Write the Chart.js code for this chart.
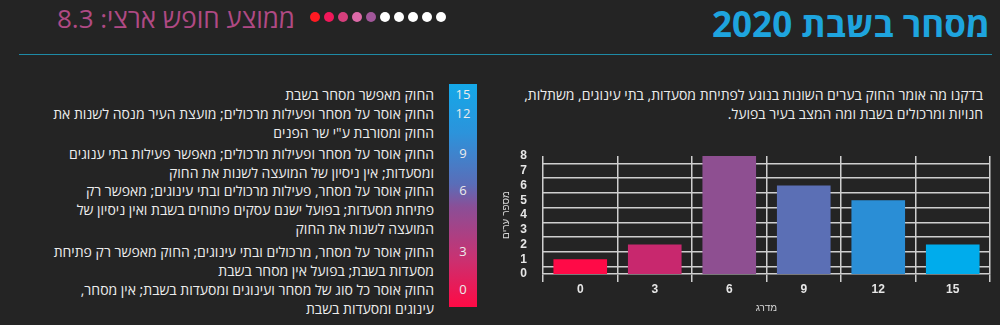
<!DOCTYPE html>
<html lang="he">
<head>
<meta charset="utf-8">
<script src="https://cdn.jsdelivr.net/npm/chart.js@4"></script>
<style>
    body {
        margin: 0;
        width: 1000px;
        height: 325px;
        background: #242424;
        overflow: hidden;
        position: relative;
        font-family: 'Open Sans', 'Liberation Sans', sans-serif;
        color: #ececec;
    }
    .abs { position: absolute; }
    #title {
        right: 10px;
        top: 0px;
        font-size: 35px;
        font-weight: 700;
        color: #1ea4de;
        direction: rtl;
        white-space: nowrap;
    }
    #avg {
        right: 705px;
        top: 0px;
        font-size: 26px;
        color: #b04a84;
        direction: rtl;
        white-space: nowrap;
    }
    #dots { left: 310px; top: 12px; display: flex; gap: 4px; }
    #dots span { width: 10px; height: 10px; border-radius: 50%; display: block; }
    #rule { left: 19px; top: 54px; width: 973px; height: 1px; background: #1e8aa6; }
    #intro {
        right: 17px;
        top: 85px;
        font-size: 14px;
        line-height: 19px;
        direction: rtl;
        text-align: right;
        white-space: nowrap;
    }
    #scale {
        left: 449px;
        top: 84px;
        width: 28px;
        height: 223px;
        background: linear-gradient(to bottom, #14a8e8 0%, #2c93db 22%, #5a6db8 45%, #8a4f97 55%, #c83272 78%, #ff0a45 100%);
    }
    .num { width: 28px; left: 449px; text-align: center; font-size: 13px; line-height: 19px; }
    .item {
        right: 566px;
        font-size: 14px;
        line-height: 19px;
        direction: rtl;
        text-align: right;
        white-space: nowrap;
    }
    #box { left: 500px; top: 140px; width: 500px; height: 185px; }
</style>
</head>
<body>
<div class="abs" id="avg">ממוצע חופש ארצי: 8.3</div>
<div class="abs" id="dots"></div>
<div class="abs" id="title">מסחר בשבת 2020</div>
<div class="abs" id="rule"></div>
<div class="abs" id="intro">בדקנו מה אומר החוק בערים השונות בנוגע לפתיחת מסעדות, בתי עינוגים, משתלות,<br>חנויות ומרכולים בשבת ומה המצב בעיר בפועל.</div>
<div class="abs" id="scale"></div>
<div class="abs" id="box"><canvas id="barChart"></canvas></div>

<script>
// data
const grades = ['0', '3', '6', '9', '12', '15'];
const cityCounts = [1, 2, 8, 6, 5, 2];
const gradeColors = ['#ff0a47', '#c8286e', '#8e4f91', '#5b6fb5', '#2a8ed6', '#00acec'];
const yTicks = [0, 1, 2, 3, 4, 5, 6, 7, 8];

const legendGrades = ['15', '12', '9', '6', '3', '0'];
const legendTexts = [
    ['החוק מאפשר מסחר בשבת'],
    ['החוק אוסר על מסחר ופעילות מרכולים; מועצת העיר מנסה לשנות את', 'החוק ומסורבת ע"י שר הפנים'],
    ['החוק אוסר על מסחר ופעילות מרכולים; מאפשר פעילות בתי ענוגים', 'ומסעדות; אין ניסיון של המועצה לשנות את החוק'],
    ['החוק אוסר על מסחר, פעילות מרכולים ובתי עינוגים; מאפשר רק', 'פתיחת מסעדות; בפועל ישנם עסקים פתוחים בשבת ואין ניסיון של', 'המועצה לשנות את החוק'],
    ['החוק אוסר על מסחר, מרכולים ובתי עינוגים; החוק מאפשר רק פתיחת', 'מסעדות בשבת; בפועל אין מסחר בשבת'],
    ['החוק אוסר כל סוג של מסחר ועינוגים ומסעדות בשבת; אין מסחר,', 'עינוגים ומסעדות בשבת']
];

const avgScore = 8.3;
const dotColors = ['#ff1a22', '#f0185a', '#d63f7c', '#dd6aa8', '#a2579a', '#ffffff', '#ffffff', '#ffffff', '#ffffff', '#ffffff'];

// header dots
const dots = document.getElementById('dots');
dotColors.forEach(function (c) {
    const s = document.createElement('span');
    s.style.background = c;
    dots.appendChild(s);
});

// legend rows
const rowTops = [85, 104, 144, 181, 242, 280];
legendTexts.forEach(function (lines, i) {
    const n = document.createElement('div');
    n.className = 'abs num';
    n.style.top = rowTops[i] + 'px';
    n.textContent = legendGrades[i];
    document.body.appendChild(n);

    const t = document.createElement('div');
    t.className = 'abs item';
    t.style.top = rowTops[i] + 'px';
    t.innerHTML = lines.join('<br>');
    document.body.appendChild(t);
});

// bar chart
const gridColor = '#cfcfcf';
const tickFont = { family: 'Liberation Sans', size: 12, weight: 'bold' };

new Chart(document.getElementById('barChart'), {
    type: 'bar',
    data: {
        labels: grades,
        datasets: [{
            data: cityCounts,
            backgroundColor: gradeColors,
            barPercentage: 0.72,
            categoryPercentage: 1
        }]
    },
    options: {
        responsive: true,
        maintainAspectRatio: false,
        animation: false,
        layout: { padding: { top: 16, right: 10, left: 0, bottom: 11 } },
        plugins: {
            legend: { display: false },
            tooltip: { enabled: false }
        },
        scales: {
            x: {
                offset: true,
                grid: {
                    offset: true,
                    color: gridColor,
                    lineWidth: 1.5,
                    tickLength: 8
                },
                border: { color: gridColor, width: 1.5 },
                ticks: { color: '#e6e6e6', font: tickFont, padding: 0 },
                title: {
                    display: true,
                    text: 'מדרג',
                    color: '#d8d8d8',
                    font: { family: 'Liberation Sans', size: 10 },
                    padding: { top: 4, bottom: 0 }
                },
                afterFit: function (scale) { scale.height = 40; }
            },
            y: {
                min: 0,
                max: 8,
                afterBuildTicks: function (axis) {
                    axis.ticks = yTicks.map(function (v) { return { value: v }; });
                },
                grid: { display: false },
                border: { display: false },
                ticks: { color: '#e6e6e6', font: tickFont, padding: 8, autoSkip: false },
                title: {
                    display: true,
                    text: 'מספר ערים',
                    color: '#d8d8d8',
                    font: { family: 'Liberation Sans', size: 10 },
                    padding: { top: 0, bottom: 6 }
                },
                afterFit: function (scale) { scale.width = 43; }
            },
            yGrid: {
                position: 'right',
                min: 0,
                max: 8,
                afterBuildTicks: function (axis) {
                    // lines sit halfway between the labelled values
                    axis.ticks = yTicks.slice(0, -1).map(function (v) { return { value: v + 0.5 }; });
                },
                grid: { color: gridColor, lineWidth: 1.5, drawTicks: false },
                border: { display: false },
                ticks: { display: false },
                afterFit: function (scale) { scale.width = 0; }
            }
        }
    }
});
</script>
</body>
</html>
